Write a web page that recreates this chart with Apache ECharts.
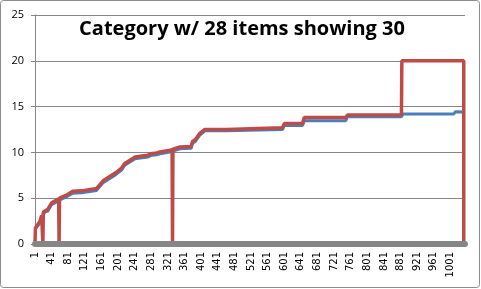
<!DOCTYPE html>
<html>
<head>
<meta charset="utf-8">
<script src="https://cdn.jsdelivr.net/npm/echarts@6/dist/echarts.min.js"></script>
<style>
html,body{margin:0;padding:0;background:#fff;}
#chart{width:481px;height:289px;}
</style>
</head>
<body>
<div id="chart"></div>
<script>
// Category positions (0-based item index) and values
const blueIdx = [0,12,16,18,24,31,40,52,58,76,91,112,114,148,164,195,209,213,216,241,249,272,278,293,301,325,332,349,376,379,386,397,409,461,465,596,600,644,648,748,752,882,886,1008,1012,1032];
const blueVal = [1.6,2.3,2.9,3.1,3.5,3.6,4.3,4.6,4.8,5.15,5.55,5.6,5.8,5.85,6.7,7.6,8.1,8.2,8.6,9.3,9.35,9.5,9.65,9.75,9.85,10.05,10.15,10.4,10.45,11.0,11.2,11.9,12.35,12.35,12.5,12.5,12.95,12.95,13.45,13.45,13.9,13.9,14.2,14.2,14.45,14.4];
const redIdx = [0,1,12,16,18,19,20,24,31,40,52,57,58,59,76,91,112,114,148,164,195,209,213,216,241,249,272,278,293,301,325,330,331,332,349,376,379,386,397,409,461,465,596,600,644,648,748,752,882,883,1032,1032];
const redVal = [0,1.75,2.5,3.1,3.2,0,3.5,3.7,3.8,4.5,4.8,4.9,0,5.0,5.35,5.75,5.8,6.0,6.05,6.9,7.8,8.3,8.4,8.8,9.5,9.55,9.7,9.85,9.95,10.05,10.25,10.3,0,10.35,10.6,10.65,11.2,11.4,12.1,12.5,12.5,12.7,12.7,13.15,13.15,13.8,13.8,14.07,14.07,20,20,0];
const xTickLabels = ['1','41','81','121','161','201','241','281','321','361','401','441','481','521','561','601','641','681','721','761','801','841','881','921','961','1001'];
const yTickLabels = ['0','5','10','15','20','25'];
const itemCount = 1035;
const titleText = 'Category w/ 28 items showing 30';

const chart = echarts.init(document.getElementById('chart'), null, {renderer:'canvas'});
const pair = (xs, ys) => xs.map((x, i) => [x, ys[i]]);
const gridColor = '#868686';
chart.setOption({
  animation: false,
  backgroundColor: '#fff',
  title: {
    text: titleText,
    left: 237, top: 14, textAlign: 'center',
    textStyle: {fontFamily: 'Open Sans', fontWeight: 'bold', fontSize: 20, color: '#000'}
  },
  graphic: [{
    type: 'rect', silent: true, z: 100,
    shape: {x: 0.5, y: 0.5, width: 479, height: 287, r: 3},
    style: {fill: 'none', stroke: '#8c8c8c', lineWidth: 1}
  }],
  grid: {left: 35, right: 16, top: 15, bottom: 45, containLabel: false},
  xAxis: {
    type: 'value', min: 0, max: itemCount, interval: 40,
    offset: 2,
    axisLine: {show: true, lineStyle: {color: gridColor, width: 6}},
    axisTick: {show: false},
    splitLine: {show: false},
    axisLabel: {
      rotate: 90, margin: 6, showMaxLabel: false,
      fontFamily: 'DejaVu Sans', fontSize: 10, color: '#000',
      formatter: v => (v % 40 === 0 && xTickLabels[v / 40] !== undefined) ? xTickLabels[v / 40] : ''
    },
    z: 3
  },
  yAxis: {
    type: 'value', min: 0, max: 25, interval: 5,
    axisLine: {show: true, lineStyle: {color: gridColor, width: 1}},
    axisTick: {show: true, length: 4, lineStyle: {color: gridColor}},
    splitLine: {show: true, lineStyle: {color: gridColor, width: 1}},
    axisLabel: {
      margin: 11, fontFamily: 'Open Sans', fontSize: 11, color: '#000',
      formatter: v => yTickLabels[v / 5]
    }
  },
  series: [
    {type: 'line', data: pair(blueIdx, blueVal), showSymbol: false, symbol: 'none',
     lineStyle: {color: '#4A7EBB', width: 3}, z: 2},
    {type: 'line', data: pair(redIdx, redVal), showSymbol: false, symbol: 'none',
     lineStyle: {color: '#BE4B48', width: 3.5}, z: 2}
  ]
});
</script>
</body>
</html>
